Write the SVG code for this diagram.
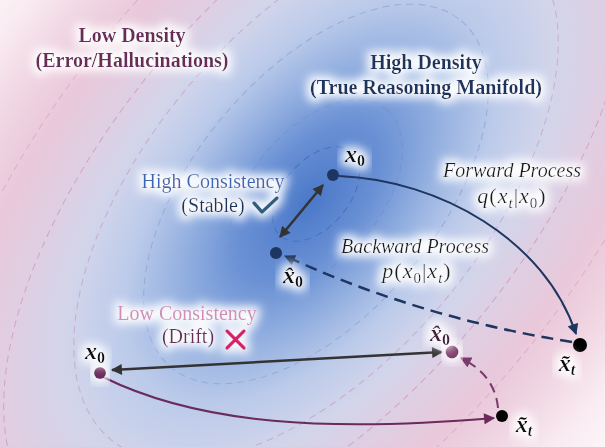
<svg xmlns="http://www.w3.org/2000/svg" width="605" height="447" viewBox="0 0 605 447">
<defs>
<radialGradient id="bg" gradientUnits="userSpaceOnUse" cx="310" cy="202" r="760" gradientTransform="rotate(-50 310 202) translate(310 202) scale(1 0.54) translate(-310 -202)">
<stop offset="0" stop-color="#4a78c8"/>
<stop offset="0.12" stop-color="#6990d4"/>
<stop offset="0.22" stop-color="#94b0e0"/>
<stop offset="0.32" stop-color="#bccbea"/>
<stop offset="0.42" stop-color="#d2d5ea"/>
<stop offset="0.52" stop-color="#e0cee2"/>
<stop offset="0.62" stop-color="#e9c8da"/>
<stop offset="0.72" stop-color="#f0d5e2"/>
<stop offset="0.84" stop-color="#f9ebf1"/>
<stop offset="1" stop-color="#fefcfd"/>
</radialGradient>
<filter id="halo" x="-30%" y="-60%" width="160%" height="220%">
<feMorphology in="SourceAlpha" operator="dilate" radius="4" result="d"/>
<feGaussianBlur in="d" stdDeviation="5" result="b"/>
<feFlood flood-color="#ffffff" flood-opacity="0.95"/>
<feComposite in2="b" operator="in" result="g"/>
<feMerge><feMergeNode in="g"/><feMergeNode in="SourceGraphic"/></feMerge>
</filter>
<marker id="ahNavy" viewBox="0 0 10 10" refX="9" refY="5" markerWidth="12" markerHeight="11" markerUnits="userSpaceOnUse" orient="auto"><path d="M0,0 L10,5 L0,10 z" fill="#1e3560"/></marker>
<marker id="ahGray" viewBox="0 0 10 10" refX="9" refY="5" markerWidth="12" markerHeight="11" markerUnits="userSpaceOnUse" orient="auto-start-reverse"><path d="M0,0 L10,5 L0,10 z" fill="#333333"/></marker>
<marker id="ahPurple" viewBox="0 0 10 10" refX="9" refY="5" markerWidth="12" markerHeight="11" markerUnits="userSpaceOnUse" orient="auto"><path d="M0,0 L10,5 L0,10 z" fill="#6a2a5a"/></marker>
<marker id="ahPurple2" viewBox="0 0 10 10" refX="9" refY="5" markerWidth="12" markerHeight="11" markerUnits="userSpaceOnUse" orient="auto"><path d="M0,0 L10,5 L0,10 z" fill="#7a3a6a"/></marker>
</defs>
<style>
.contour{fill:none;stroke-width:1;stroke-dasharray:7 5}
.hdr{font-family:"Liberation Serif","Times New Roman",serif;font-size:20px;font-weight:bold;text-anchor:middle}
.lab{font-family:"Liberation Serif","Times New Roman",serif;font-size:20px;text-anchor:middle}
.it{font-family:"Liberation Serif","Times New Roman",serif;font-size:20px;font-style:italic;text-anchor:middle;fill:#1a1a1a}
.math{font-family:"Liberation Serif","Times New Roman",serif;font-size:22px;text-anchor:middle;fill:#1a1a1a;letter-spacing:1px}
.mi{font-style:italic}
.sub{font-size:15px}
.node-lbl{font-family:"Liberation Serif","Times New Roman",serif;font-size:24px;font-weight:bold;font-style:italic;text-anchor:middle}
.nsub{font-size:16px;font-style:normal}
.tsub{font-size:16px}
.navy{fill:#1e3560}
.purple{fill:#6a2a5a}
</style>
<rect x="0" y="0" width="605" height="447" fill="url(#bg)"/>
<g id="contours" transform="rotate(-50 316 194)">
<ellipse class="contour" cx="316" cy="194" rx="55" ry="33" stroke="#3f6bc0" opacity="0.8"/>
<ellipse class="contour" cx="316" cy="194" rx="110" ry="65" stroke="#6f8fd0" opacity="0.7"/>
<ellipse class="contour" cx="316" cy="194" rx="226" ry="121" stroke="#8c9fd6" opacity="0.7"/>
<ellipse class="contour" cx="316" cy="194" rx="320" ry="167" stroke="#c79ac0" opacity="0.7"/>
<ellipse class="contour" cx="316" cy="194" rx="420" ry="205" stroke="#d28fb6" opacity="0.7"/>
<ellipse class="contour" cx="316" cy="194" rx="520" ry="262" stroke="#d89cbd" opacity="0.6"/>
</g>
<g id="region-labels">
<g id="low-density" filter="url(#halo)">
<text class="hdr purple" x="132" y="42">Low Density</text>
<text class="hdr purple" x="132" y="67">(Error/Hallucinations)</text>
</g>
<g id="high-density" filter="url(#halo)">
<text class="hdr navy" x="426" y="69">High Density</text>
<text class="hdr navy" x="426" y="94">(True Reasoning Manifold)</text>
</g>
<g id="high-consistency" filter="url(#halo)">
<text class="lab" x="213" y="188" fill="#3b66b5">High Consistency</text>
<text class="lab" x="213" y="212" fill="#1e3560">(Stable)</text>
<path d="M254,203 L262,212 L277,198" fill="none" stroke="#2b5f7e" stroke-width="3.5" stroke-linecap="round" stroke-linejoin="round"/>
</g>
<g id="low-consistency" filter="url(#halo)">
<text class="lab" x="187" y="320" fill="#d38cb5">Low Consistency</text>
<text class="lab" x="188" y="343" fill="#6a2a5a">(Drift)</text>
<path d="M227,331 L244,348 M244,331 L227,348" fill="none" stroke="#d6246e" stroke-width="3.5" stroke-linecap="round"/>
</g>
<g id="forward-label" filter="url(#halo)">
<text class="it" x="512" y="177">Forward Process</text>
<text class="math" x="512" y="203"><tspan class="mi">q</tspan>(<tspan class="mi">x</tspan><tspan class="sub mi" dy="5">t</tspan><tspan dy="-5">|</tspan><tspan class="mi">x</tspan><tspan class="sub" dy="5">0</tspan><tspan dy="-5">)</tspan></text>
</g>
<g id="backward-label" filter="url(#halo)">
<text class="it" x="415" y="253">Backward Process</text>
<text class="math" x="417" y="278"><tspan class="mi">p</tspan>(<tspan class="mi">x</tspan><tspan class="sub" dy="5">0</tspan><tspan dy="-5">|</tspan><tspan class="mi">x</tspan><tspan class="sub mi" dy="5">t</tspan><tspan dy="-5">)</tspan></text>
</g>
</g>
<g id="connectors" fill="none">
<path id="forward" d="M339,176 C440,180 545,240 576,334" stroke="#1e3560" stroke-width="2" marker-end="url(#ahNavy)"/>
<path id="backward" d="M572,342 Q420,318 285,256" stroke="#1e3560" stroke-width="2.5" stroke-dasharray="12 7" marker-end="url(#ahNavy)"/>
<path id="stable-pair" d="M323,185 L280,237" stroke="#333333" stroke-width="2.5" marker-start="url(#ahGray)" marker-end="url(#ahGray)"/>
<path id="drift-pair" d="M112,370 L442,352" stroke="#333333" stroke-width="2.5" marker-start="url(#ahGray)" marker-end="url(#ahGray)"/>
<path id="drift-forward" d="M103,377 C200,425 330,432 494,418" stroke="#6a2a5a" stroke-width="2" marker-end="url(#ahPurple)"/>
<path id="drift-backward" d="M498,408 Q495,375 461,358" stroke="#7a3a6a" stroke-width="2" stroke-dasharray="10 6" marker-end="url(#ahPurple2)"/>
</g>
<g id="node-x0-stable">
<circle cx="333" cy="175" r="6" fill="#1e3560"/>
<text class="node-lbl" x="355" y="162" fill="#111" filter="url(#halo)">x<tspan class="nsub" dy="4">0</tspan></text>
</g>
<g id="node-xhat0-stable">
<circle cx="276" cy="253" r="6" fill="#1e3560"/>
<text class="node-lbl" x="293" y="283" fill="#111" filter="url(#halo)">x̂<tspan class="nsub" dy="4">0</tspan></text>
</g>
<g id="node-xtilde-t-stable">
<circle cx="580" cy="345" r="7" fill="#000"/>
<text class="node-lbl" x="567" y="371" fill="#111" filter="url(#halo)">x̃<tspan class="tsub" dy="4">t</tspan></text>
</g>
<g id="node-x0-drift">
<circle cx="100" cy="373" r="6" fill="#6a2a5a" filter="url(#halo)"/>
<text class="node-lbl" x="95" y="359" fill="#111" filter="url(#halo)">x<tspan class="nsub" dy="4">0</tspan></text>
</g>
<g id="node-xhat0-drift">
<circle cx="452" cy="352" r="6.5" fill="#7d3d6d" filter="url(#halo)"/>
<text class="node-lbl" x="440" y="341" fill="#4a1a40" filter="url(#halo)">x̂<tspan class="nsub" dy="4">0</tspan></text>
</g>
<g id="node-xtilde-t-drift">
<circle cx="502" cy="416" r="6" fill="#000"/>
<text class="node-lbl" x="524" y="432" fill="#111" filter="url(#halo)">x̃<tspan class="tsub" dy="4">t</tspan></text>
</g>
</svg>
